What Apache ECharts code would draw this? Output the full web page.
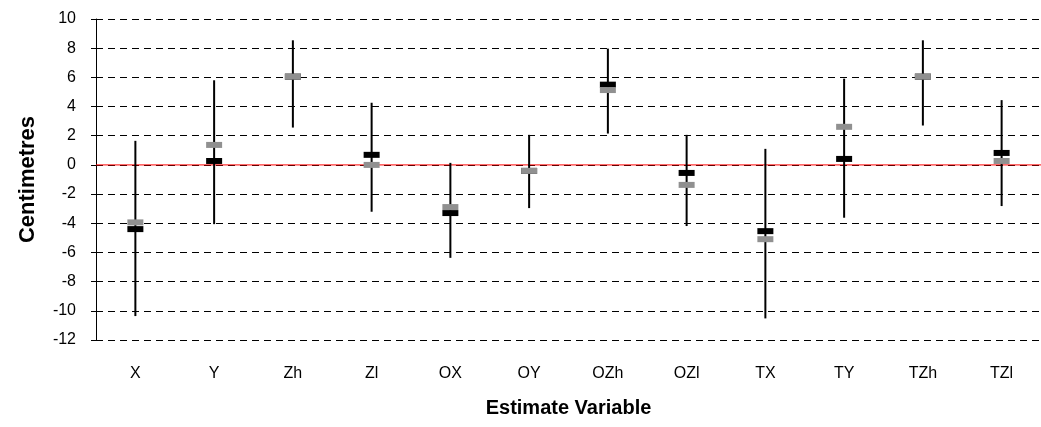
<!DOCTYPE html>
<html>
<head>
<meta charset="utf-8">
<script src="https://cdn.jsdelivr.net/npm/echarts@6/dist/echarts.min.js"></script>
<style>
html,body{margin:0;padding:0;background:#fff;}
#chart{width:1041px;height:427px;}
</style>
</head>
<body>
<div id="chart"></div>
<script>
var categories = ['X','Y','Zh','Zl','OX','OY','OZh','OZl','TX','TY','TZh','TZl'];
var highVals  = [1.65, 5.8, 8.54, 4.26, 0.14, 2.06, 7.97, 2.06, 1.1, 5.91, 8.54, 4.44];
var lowVals   = [-10.36, -4.06, 2.56, -3.21, -6.37, -2.96, 2.15, -4.19, -10.52, -3.62, 2.7, -2.82];
var blackVals = [-4.4, 0.27, 6.05, 0.69, -3.3, -0.41, 5.5, -0.55, -4.54, 0.41, 6.05, 0.82];
var greyVals  = [-3.94, 1.37, 6.05, 0.0, -2.89, -0.41, 5.13, -1.37, -5.09, 2.61, 6.05, 0.27];
var yTicks = {min: -12, max: 10, interval: 2};

var rangeData = categories.map(function (c, i) { return [i, lowVals[i], highVals[i]]; });
var font = 'Liberation Sans, Arial, sans-serif';

var chart = echarts.init(document.getElementById('chart'), null, {renderer: 'canvas'});
chart.setOption({
  animation: false,
  backgroundColor: '#ffffff',
  grid: {left: 96, top: 19, bottom: 87, width: 951, containLabel: false},
  xAxis: {
    type: 'category',
    data: categories,
    boundaryGap: true,
    axisLine: {show: false},
    axisTick: {show: false},
    axisLabel: {color: '#000', fontSize: 16, fontFamily: font, margin: 26},
    splitLine: {show: false},
    name: 'Estimate Variable',
    nameLocation: 'middle',
    nameGap: 58,
    nameTextStyle: {color: '#000', fontSize: 20, fontWeight: 'bold', fontFamily: font}
  },
  yAxis: {
    type: 'value',
    z: 0,
    min: yTicks.min, max: yTicks.max, interval: yTicks.interval,
    axisLine: {show: true, lineStyle: {color: '#000', width: 1}},
    axisTick: {show: true, inside: false, length: 5, lineStyle: {color: '#000'}},
    axisLabel: {color: '#000', fontSize: 16, fontFamily: font, margin: 20},
    splitLine: {show: true, lineStyle: {color: '#000', type: [7, 5], width: 1}},
    name: 'Centimetres',
    nameLocation: 'middle',
    nameGap: 57,
    nameRotate: 90,
    nameTextStyle: {color: '#000', fontSize: 22, fontWeight: 'bold', fontFamily: font}
  },
  series: [
    {
      type: 'custom',
      z: 3,
      silent: true,
      data: [[0, 0]],
      encode: {x: 0, y: 1},
      renderItem: function (params, api) {
        var y = api.coord([0, 0])[1];
        var cs = params.coordSys;
        return {
          type: 'line',
          shape: {x1: cs.x, y1: y, x2: cs.x + cs.width, y2: y},
          style: {stroke: '#ff0000', lineWidth: 1}
        };
      }
    },
    {
      type: 'custom',
      z: 4,
      data: rangeData,
      encode: {x: 0, y: [1, 2]},
      renderItem: function (params, api) {
        var i = api.value(0);
        var p1 = api.coord([i, api.value(1)]);
        var p2 = api.coord([i, api.value(2)]);
        return {
          type: 'line',
          shape: {x1: p1[0], y1: p1[1], x2: p2[0], y2: p2[1]},
          style: {stroke: '#000', lineWidth: 2}
        };
      }
    },
    {
      type: 'scatter',
      z: 5,
      symbol: 'rect',
      symbolSize: [16, 6],
      itemStyle: {color: '#000', opacity: 1},
      data: blackVals
    },
    {
      type: 'scatter',
      z: 6,
      symbol: 'rect',
      symbolSize: [16, 6],
      itemStyle: {color: '#909090', opacity: 1},
      data: greyVals
    }
  ]
});
</script>
</body>
</html>
